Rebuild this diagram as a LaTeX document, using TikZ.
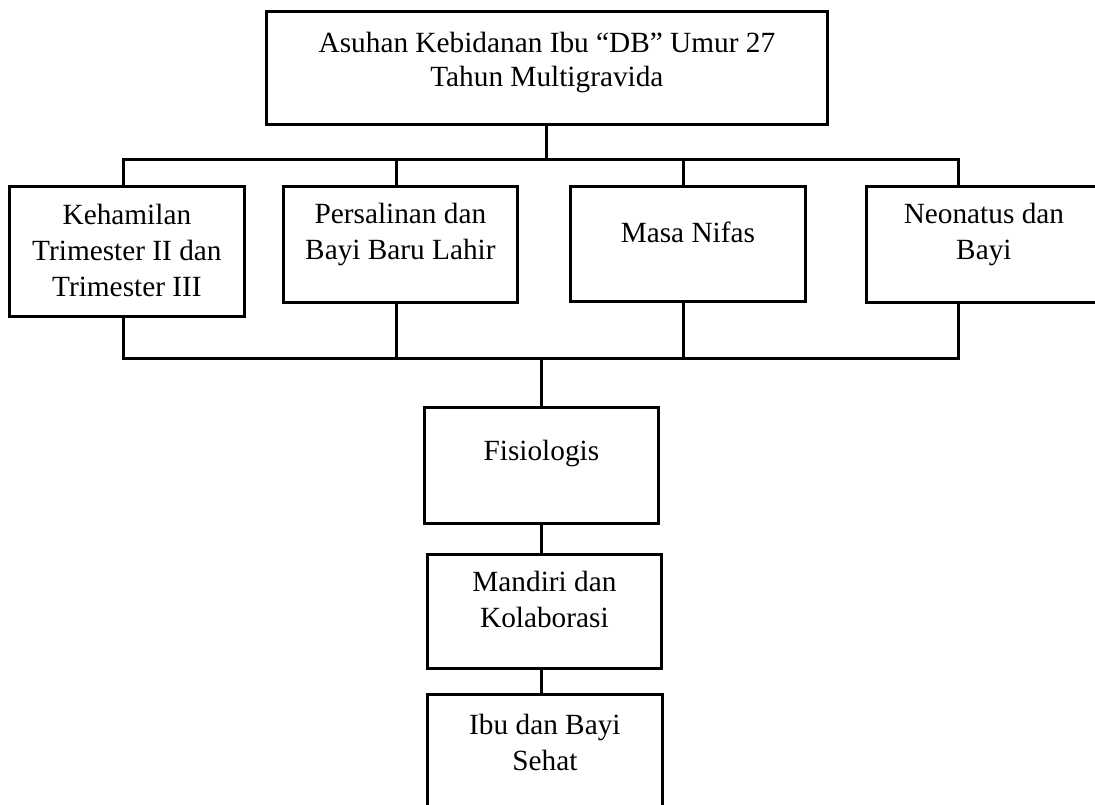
\documentclass[tikz,border=0pt]{standalone}
\usepackage{fontspec}
\setmainfont{Liberation Serif}
\usetikzlibrary{positioning,calc}

\begin{document}
\begin{tikzpicture}[x=1pt,y=-1pt]
	\tikzset{box/.style={draw,rectangle,line width=2.8pt,inner sep=0pt,anchor=north west,
	                     minimum width=235pt,minimum height=116pt},
	         txt/.style={align=center,inner sep=0pt,yshift=10pt,
	                     font=\fontsize{29.3}{36}\selectfont},
	         conn/.style={draw,line width=3pt,line join=miter}}
	\useasboundingbox (0,0) rectangle (1095,805);

	\node[box,minimum width=561pt,minimum height=113pt,
	      label={[txt,yshift=-5pt,font=\fontsize{29.3}{34}\selectfont]center:{Asuhan Kebidanan Ibu “DB” Umur 27\\Tahun Multigravida}}] (asuhan) at (265,10) {};

	\node[box,minimum height=130pt,
	      label={[txt,yshift=-9pt]center:{Kehamilan\\Trimester II dan\\Trimester III}}] (hamil) at (8,185) {};
	\node[box,minimum width=234pt,
	      label={[txt]center:{Persalinan dan\\Bayi Baru Lahir}}] (salin) at (282,185) {};
	\node[box,minimum height=115pt,
	      label={[txt,yshift=2pt]center:{Masa Nifas}}] (nifas) at (569,185) {};
	\node[box,
	      label={[txt]center:{Neonatus dan\\Bayi}}] (neonatus) at (865,185) {};

	\node[box,minimum width=234pt,
	      label={[txt,yshift=2pt]center:{Fisiologis}}] (fisio) at (423,406) {};
	\node[box,minimum width=234pt,minimum height=114pt,
	      label={[txt,yshift=2pt]center:{Mandiri dan\\Kolaborasi}}] (mandiri) at (426,553) {};
	\node[box,minimum height=130pt,
	      label={[txt,yshift=7pt]center:{Ibu dan Bayi\\Sehat}}] (sehat) at (426,693) {};

	% garis cabang atas dan bawah
	\coordinate (u1) at (123,160);
	\coordinate (u2) at (396,160);
	\coordinate (u3) at (683,160);
	\coordinate (u4) at (958,160);
	\coordinate (l1) at (123,358);
	\coordinate (l2) at (396,358);
	\coordinate (l3) at (683,358);
	\coordinate (l4) at (958,358);

	\path[conn] (asuhan.south) -- (asuhan.south |- u1);
	\path[conn] (u1 |- hamil.north) -- (u1) -- (u4) -- (u4 |- neonatus.north);
	\path[conn] (u2) -- (u2 |- salin.north);
	\path[conn] (u3) -- (u3 |- nifas.north);

	\path[conn] (l1 |- hamil.south) -- (l1) -- (l4) -- (l4 |- neonatus.south);
	\path[conn] (l2) -- (l2 |- salin.south);
	\path[conn] (l3) -- (l3 |- nifas.south);

	\path[conn] (fisio.north |- l1) -- (fisio.north);
	\path[conn] (fisio.south) -- (fisio.south |- mandiri.north);
	\path[conn] (fisio.south |- mandiri.south) -- (fisio.south |- sehat.north);
\end{tikzpicture}
\end{document}
